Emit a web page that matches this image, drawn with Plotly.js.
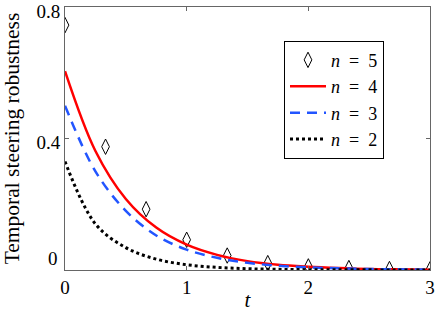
<!DOCTYPE html>
<html>
<head>
<meta charset="utf-8">
<script src="https://cdn.plot.ly/plotly-3.0.1.min.js"></script>
<style>html,body{margin:0;padding:0;background:#fff;}#chart{width:436px;height:312px;}</style>
</head>
<body>
<div id="chart"></div>
<script>
// n = 5 (diamond markers)
const t5 = [0, 0.3333, 0.6667, 1, 1.3333, 1.6667, 2, 2.3333, 2.6667, 3];
const y5 = [0.745, 0.375, 0.185, 0.092, 0.044, 0.021, 0.011, 0.006, 0.003, 0.002];
// curves
const tLine = [0, 0.25, 0.5, 0.75, 1, 1.25, 1.5, 1.75, 2, 2.25, 2.5, 2.75, 3];
const y4 = [0.605, 0.362, 0.216, 0.129, 0.077, 0.046, 0.027, 0.016, 0.010, 0.006, 0.003, 0.002, 0.001];
const y3 = [0.500, 0.300, 0.180, 0.105, 0.062, 0.037, 0.022, 0.013, 0.008, 0.005, 0.003, 0.002, 0.001];
const y2 = [0.330, 0.140, 0.068, 0.033, 0.016, 0.008, 0.004, 0.002, 0.001, 0.0006, 0.0004, 0.0003, 0.0002];
const legendNames = ['n = 5', 'n = 4', 'n = 3', 'n = 2'];
const xTicks = [0, 1, 2, 3];
const yTicks = [0.4, 0.8];

const nb = '\u00a0';
function lbl(s) {
  const p = s.split(' = ');
  return '<i>' + p[0] + '</i>' + nb + nb + '=' + nb + nb + p[1];
}
const font = '"Liberation Serif", "Times New Roman", serif';

const traces = [
  {x: t5, y: y5, mode: 'markers', name: lbl(legendNames[0]),
   marker: {symbol: 'diamond-tall-open', size: 11, color: '#000', line: {width: 1, color: '#000'}}},
  {x: tLine, y: y4, mode: 'lines', name: lbl(legendNames[1]), line: {color: '#ff0000', width: 2.5, shape: 'spline'}},
  {x: tLine, y: y3, mode: 'lines', name: lbl(legendNames[2]), line: {color: '#2255ff', width: 2.5, dash: '10px,7px', shape: 'spline'}},
  {x: tLine, y: y2, mode: 'lines', name: lbl(legendNames[3]), line: {color: '#000000', width: 3, dash: '3px,3px', shape: 'spline'}}
];

const layout = {
  width: 436, height: 312,
  margin: {l: 65, r: 6, t: 7, b: 42},
  paper_bgcolor: '#fff', plot_bgcolor: '#fff',
  font: {family: font, size: 19, color: '#000'},
  showlegend: true,
  legend: {x: 0.6, y: 0.872, xanchor: 'left', yanchor: 'top', bgcolor: '#fff',
           bordercolor: '#000', borderwidth: 1, font: {family: font, size: 18},
           tracegroupgap: 0, itemwidth: 36},
  xaxis: {range: [0, 3], tickvals: xTicks, ticktext: xTicks.map(String), ticks: 'inside', ticklen: 4,
          tickcolor: '#666', showline: true, linecolor: '#666', linewidth: 1, mirror: 'ticks',
          showgrid: false, zeroline: false, ticklabeloverflow: 'allow',
          title: {text: '<i>t</i>', font: {family: font, size: 21}, standoff: 2}},
  yaxis: {range: [0, 0.8001], tickvals: yTicks, ticktext: yTicks.map(String), ticks: 'inside', ticklen: 4,
          tickcolor: '#666', showline: true, linecolor: '#666', linewidth: 1, mirror: 'ticks',
          showgrid: false, zeroline: false, ticklabeloverflow: 'allow', ticklabelshift: 4,
          title: {text: 'Temporal steering robustness', font: {family: font, size: 21.5}, standoff: 14}},
  annotations: [{xref: 'paper', yref: 'paper', x: 0, y: 0, xanchor: 'right', yanchor: 'middle',
                 xshift: -5, yshift: 12, text: '0', showarrow: false, font: {family: font, size: 19}}]
};

Plotly.newPlot('chart', traces, layout, {displayModeBar: false, staticPlot: true});
</script>
</body>
</html>
